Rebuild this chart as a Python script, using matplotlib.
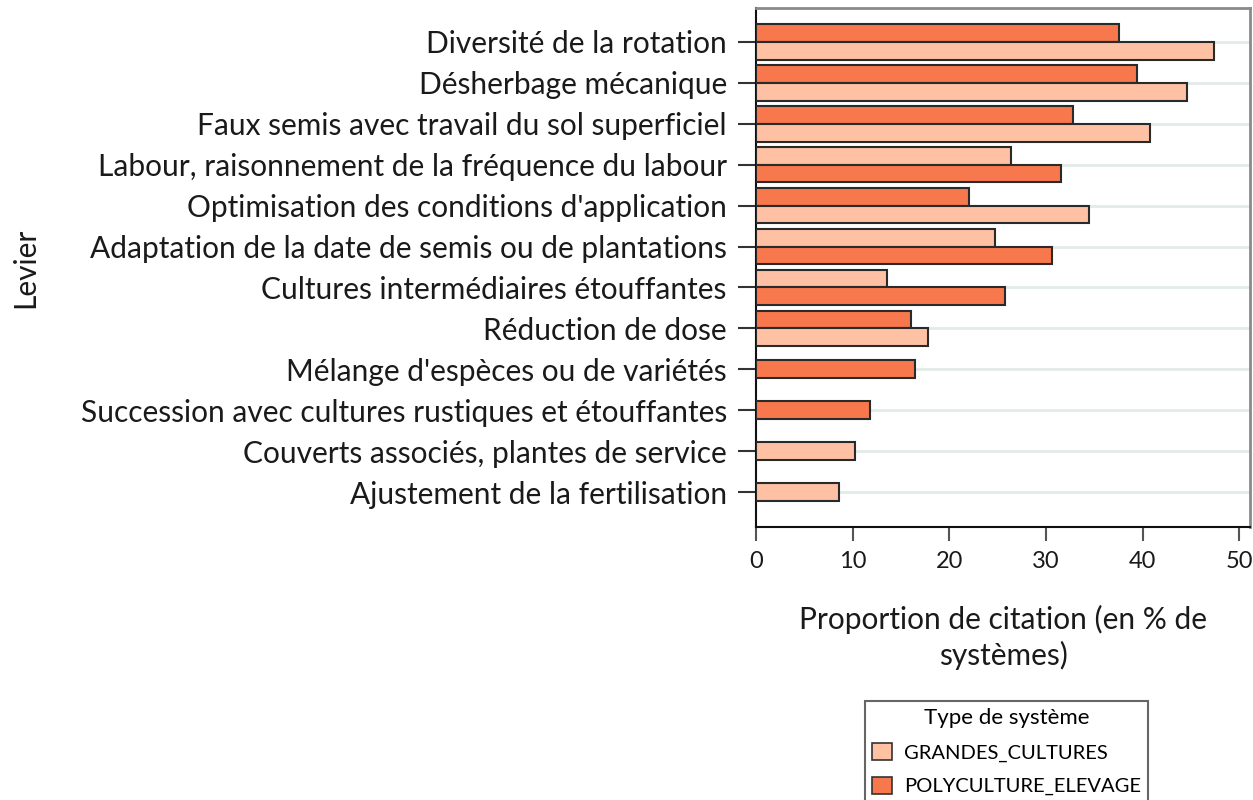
import numpy as np
import matplotlib
matplotlib.use("Agg")
import matplotlib.pyplot as plt
from matplotlib.patches import Patch

plt.rcParams['font.family'] = ['Lato', 'DejaVu Sans']

categories = [
    "Diversité de la rotation",
    "Désherbage mécanique",
    "Faux semis avec travail du sol superficiel",
    "Labour, raisonnement de la fréquence du labour",
    "Optimisation des conditions d'application",
    "Adaptation de la date de semis ou de plantations",
    "Cultures intermédiaires étouffantes",
    "Réduction de dose",
    "Mélange d'espèces ou de variétés",
    "Succession avec cultures rustiques et étouffantes",
    "Couverts associés, plantes de service",
    "Ajustement de la fertilisation",
]
grandes_cultures = [47.4, 44.6, 40.8, 26.4, 34.4, 24.7, 13.5, 17.8, np.nan, np.nan, 10.2, 8.6]
polyculture_elevage = [37.5, 39.4, 32.8, 31.5, 22.0, 30.6, 25.8, 16.0, 16.4, 11.8, np.nan, np.nan]
series_names = ["GRANDES_CULTURES", "POLYCULTURE_ELEVAGE"]
series_values = [grandes_cultures, polyculture_elevage]
colors = ["#fec1a3", "#f7784c"]

fig = plt.figure(figsize=(12.53, 8.0), dpi=100)
ax = fig.add_axes([756/1253, 1-527/800, (1250-756)/1253, (527-8)/800])

h = 0.433
for i, cat in enumerate(categories):
    present = [(series_values[s][i], s) for s in range(2) if not np.isnan(series_values[s][i])]
    present.sort()
    n = len(present)
    for k, (v, s) in enumerate(present):
        y = i + (k - (n - 1) / 2) * h
        ax.barh(y, v, height=h, color=colors[s], edgecolor="#2a2a2a", linewidth=1.5, zorder=3)

ax.set_yticks(range(len(categories)))
ax.set_yticklabels(categories, fontsize=21.5, color="#1a1a1a")
ax.set_ylim(len(categories) - 1 + 0.855, -0.83)
ax.set_xlim(0, 51.1)
ax.set_xticks([0, 10, 20, 30, 40, 50])
ax.tick_params(axis='x', labelsize=17, length=10, width=1.5, color="#555555", pad=7, labelcolor="#1a1a1a")
ax.tick_params(axis='y', length=13, width=1.5, color="#333333", pad=8)

ax.grid(axis='y', color="#e2ebe7", linewidth=2, zorder=0)
ax.set_axisbelow(True)

for side in ['top', 'right']:
    ax.spines[side].set_color("#8a8a8a")
    ax.spines[side].set_linewidth(2)
for side in ['left', 'bottom']:
    ax.spines[side].set_color("#111111")
    ax.spines[side].set_linewidth(1.5)

ax.set_ylabel("Levier", fontsize=21.5, color="#1a1a1a")
ax.yaxis.set_label_coords(-1.45, 0.5)
ax.set_xlabel("Proportion de citation (en % de\nsystèmes)", fontsize=21.5, color="#1a1a1a", linespacing=1.3)
ax.xaxis.set_label_coords(0.5, -0.15)

handles = [Patch(facecolor=colors[s], edgecolor="#333333", linewidth=1.2, label=series_names[s]) for s in range(2)]
leg = fig.legend(handles=handles, title="Type de système", loc='upper left',
                 bbox_to_anchor=(865/1253, 1-701/800), fontsize=14.5, title_fontsize=16,
                 frameon=True, fancybox=False, edgecolor="#666666", framealpha=1,
                 handlelength=1.0, handleheight=0.9, labelspacing=0.75, borderpad=0.35,
                 handletextpad=0.6, borderaxespad=0)
leg.get_frame().set_linewidth(1.5)

fig.savefig("out.png", dpi=100)
